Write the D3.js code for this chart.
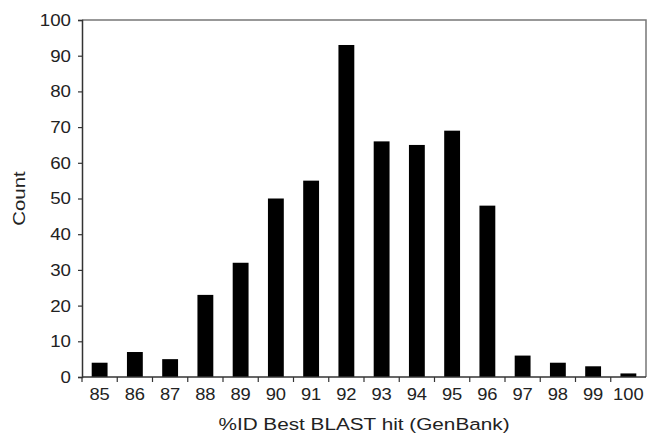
<!DOCTYPE html>
<html><head><meta charset="utf-8">
<script src="https://cdn.jsdelivr.net/npm/d3@7"></script>
<style>body{margin:0;background:#fff}svg{display:block}text{font-family:"Liberation Sans",Arial,sans-serif;fill:#222}</style>
</head><body>
<svg id="c" width="648" height="434"></svg>
<script>
const categories = ["85","86","87","88","89","90","91","92","93","94","95","96","97","98","99","100"];
const counts = [4,7,5,23,32,50,55,93,66,65,69,48,6,4,3,1];
const yTicks = [0,10,20,30,40,50,60,70,80,90,100];
const xTitle = "%ID Best BLAST hit (GenBank)";
const yTitle = "Count";

const svg = d3.select("#c");
const L = 82, R = 646, T = 20, B = 377;
const x = d3.scaleBand().domain(categories).range([L, R]).paddingInner(0.55).paddingOuter(0.275);
const y = d3.scaleLinear().domain([0, 100]).range([B, T]);

// frame top/right
svg.append("path").attr("d", `M${L},${T}H${R}V${B}`).attr("fill","none").attr("stroke","#777").attr("stroke-width",1.5);

// bars
svg.selectAll("rect.bar").data(counts).join("rect")
  .attr("x", (d,i) => x(categories[i]))
  .attr("width", x.bandwidth())
  .attr("y", d => y(d))
  .attr("height", d => y(0) - y(d))
  .attr("fill", "#000");

// y axis
const ya = svg.append("g").attr("transform", `translate(${L},0)`)
  .call(d3.axisLeft(y).tickValues(yTicks).tickSize(4).tickPadding(6));
ya.select(".domain").attr("stroke","#333").attr("stroke-width",1.5);
ya.selectAll(".tick line").attr("stroke","#333").attr("stroke-width",1.2);
ya.selectAll(".tick text").style("font-size","17px").attr("fill","#222").attr("transform","scale(1.1,1)");

// x axis labels
const xa = svg.append("g").attr("transform", `translate(0,${B})`)
  .call(d3.axisBottom(x).tickSize(0).tickPadding(11));
xa.select(".domain").remove();
xa.selectAll(".tick text").style("font-size","17px").attr("fill","#222").attr("transform","scale(1.08,1)");
svg.append("line").attr("x1",L).attr("x2",R).attr("y1",B).attr("y2",B).attr("stroke","#333").attr("stroke-width",1.5);
// x tick marks at band boundaries
svg.selectAll("line.xt").data(categories).join("line")
  .attr("x1", (c,i) => i===0 ? L : x(c) - (x.step()-x.bandwidth())/2)
  .attr("x2", (c,i) => i===0 ? L : x(c) - (x.step()-x.bandwidth())/2)
  .attr("y1", B).attr("y2", B+5).attr("stroke","#333").attr("stroke-width",1.2);

// titles
svg.append("text").attr("transform", `translate(${(L+R)/2},430) scale(1.22,1)`).attr("text-anchor","middle").style("font-size","17px").text(xTitle);
svg.append("text").attr("transform", `translate(25,${(T+B)/2}) rotate(-90) scale(1.2,1)`).attr("text-anchor","middle").style("font-size","17px").text(yTitle);
</script>
</body></html>
